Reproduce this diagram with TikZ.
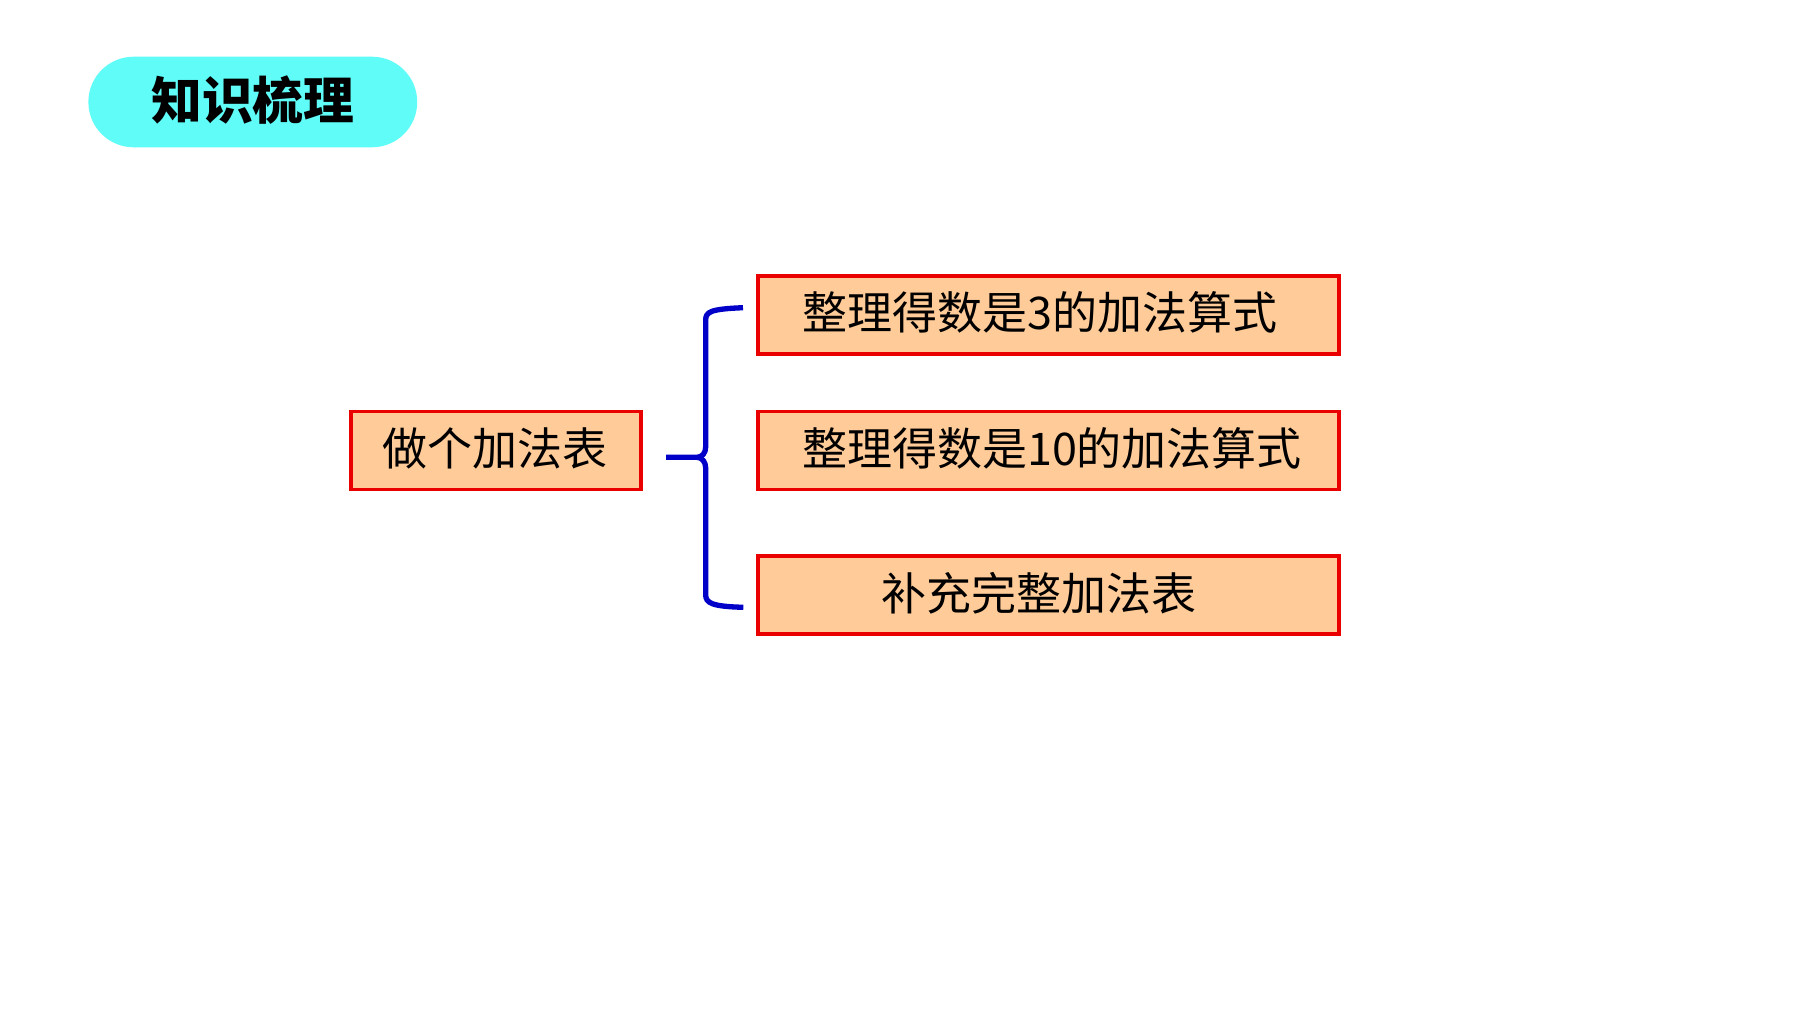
\documentclass[tikz,border=0pt]{standalone}
\usepackage{fontspec}
\setmainfont{Noto Sans CJK SC}
\definecolor{pillcyan}{RGB}{96,252,248}
\definecolor{peach}{RGB}{255,204,153}
\definecolor{boxred}{RGB}{235,0,0}
\definecolor{braceblue}{RGB}{0,0,200}
\tikzset{
  pill/.style={rectangle, rounded corners=39.2pt, fill=pillcyan, minimum width=285pt, minimum height=78.5pt, inner sep=0pt},
  titletext/.style={font=\fontsize{44}{50}\selectfont\bfseries, text=black, inner sep=0pt},
  peachbox/.style={rectangle, draw=boxred, line width=3.4pt, fill=peach, inner sep=0pt, minimum height=67.6pt},
  boxtext/.style={font=\fontsize{39}{46}\selectfont, text=black, inner sep=0pt},
  bracestyle/.style={draw=braceblue, line width=4.6pt, line join=round, line cap=butt}
}
\begin{document}
\begin{tikzpicture}[x=0.866667pt,y=-0.866667pt]
\useasboundingbox[fill=white] (0,0) rectangle (1800,1012);
% title
\node[pill] (title) at (252.8,102) {};
\node[titletext] (titletxt) at (252.8,100.5) {知识梳理};
% left box
\node[peachbox, minimum width=250.8pt] (root) at (496,450.5) {};
\node[boxtext] (roottxt) at (495,448.3) {做个加法表};
% right boxes
\node[peachbox, minimum width=503.5pt] (b1) at (1048.2,314.7) {};
\node[peachbox, minimum width=503.5pt] (b2) at (1048.2,450.5) {};
\node[peachbox, minimum width=503.5pt] (b3) at (1048.2,595.4) {};
\node[boxtext, anchor=west] (t1) at (801.8,312.4) {整理得数是3的加法算式};
\node[boxtext, anchor=west] (t2) at (801.8,448.3) {整理得数是10的加法算式};
\node[boxtext] (t3) at (1038.7,593.3) {补充完整加法表};
% brace
\coordinate (btop) at (743,307.7);
\coordinate (bbot) at (743.3,607.3);
\coordinate (btip) at (666,457.3);
\coordinate (bmid) at (697,457.3);
\draw[bracestyle] (btip) -- (bmid)
  .. controls (702,457.3) and (705.7,453) .. (705.7,447)
  -- (705.7,320)
  .. controls (705.7,312) and (710,309) .. (btop);
\draw[bracestyle] (bmid)
  .. controls (702,457.3) and (705.7,462) .. (705.7,468)
  -- (705.7,595)
  .. controls (705.7,603) and (712,606.5) .. (bbot);
\end{tikzpicture}
\end{document}
